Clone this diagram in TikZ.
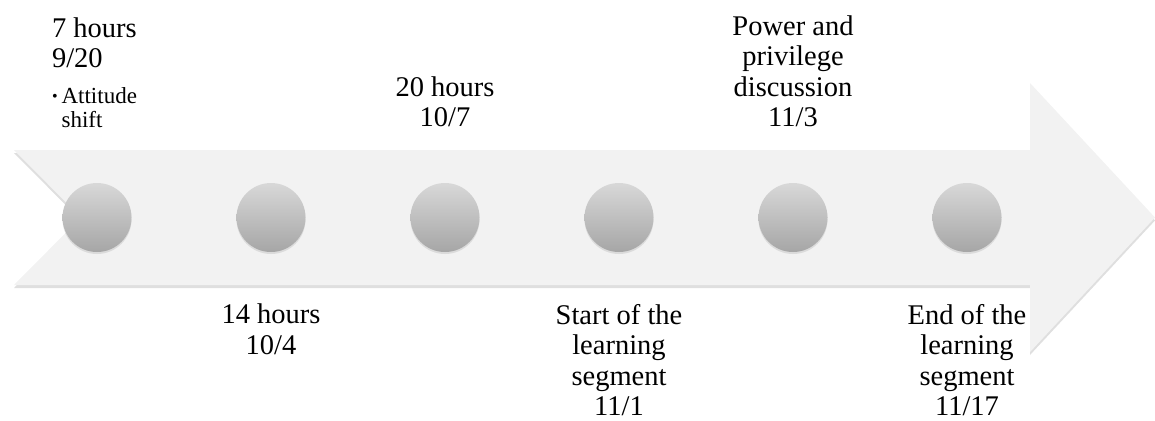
\documentclass[tikz,border=0pt]{standalone}
\usepackage{fontspec}
\setmainfont{Liberation Serif}
\usetikzlibrary{positioning, shadows}
\definecolor{bandgray}{HTML}{F2F2F2}
\definecolor{dottop}{HTML}{D8D8D8}
\definecolor{dotbottom}{HTML}{A6A6A6}
\newcommand{\bulletmark}{\raisebox{2pt}{\fontsize{16}{16}\selectfont\textbullet}\hspace{4pt}}
\tikzset{
    base/.style={font=\fontsize{28.5}{30.5}\selectfont, inner sep=0pt, outer sep=0pt},
    label/.style={base, align=center},
    sublabel/.style={base, font=\fontsize{23}{24}\selectfont, align=left},
    dot/.style={circle, minimum size=69pt, inner sep=0pt, outer sep=0pt,
        top color=dottop, bottom color=dotbottom,
        drop shadow={shadow xshift=0pt, shadow yshift=-2pt, opacity=0.2}},
    band/.style={fill=bandgray,
        drop shadow={shadow xshift=0pt, shadow yshift=-3pt, opacity=0.25}}
}

\begin{document}
\begin{tikzpicture}[x=1pt, y=-1pt]
    \useasboundingbox (0,0) rectangle (1155,420);

    % timeline arrow
    \fill[band] (14,150) -- (1030,150) -- (1030,83) -- (1155,217.5) -- (1030,352)
        -- (1030,285) -- (14,285) -- (81,217.5) -- cycle;

    \node[dot] (m1) at (97,217.5) {};
    \node[dot, right=105pt of m1] (m2) {};
    \node[dot, right=105pt of m2] (m3) {};
    \node[dot, right=105pt of m3] (m4) {};
    \node[dot, right=105pt of m4] (m5) {};
    \node[dot, right=105pt of m5] (m6) {};

    \node[sublabel, anchor=south west] (l1b) at (52,128) {\bulletmark Attitude\\\phantom{\bulletmark}shift};
    \node[label, align=left, above=20pt of l1b.north west, anchor=south west] (l1) {7 hours\\9/20};
    \node[label, below=52pt of m2] (l2) {14 hours\\10/4};
    \node[label, above=56pt of m3] (l3) {20 hours\\10/7};
    \node[label, below=52pt of m4] (l4) {Start of the\\learning\\segment\\11/1};
    \node[label, above=56pt of m5] (l5) {Power and\\privilege\\discussion\\11/3};
    \node[label, below=52pt of m6] (l6) {End of the\\learning\\segment\\11/17};
\end{tikzpicture}
\end{document}
